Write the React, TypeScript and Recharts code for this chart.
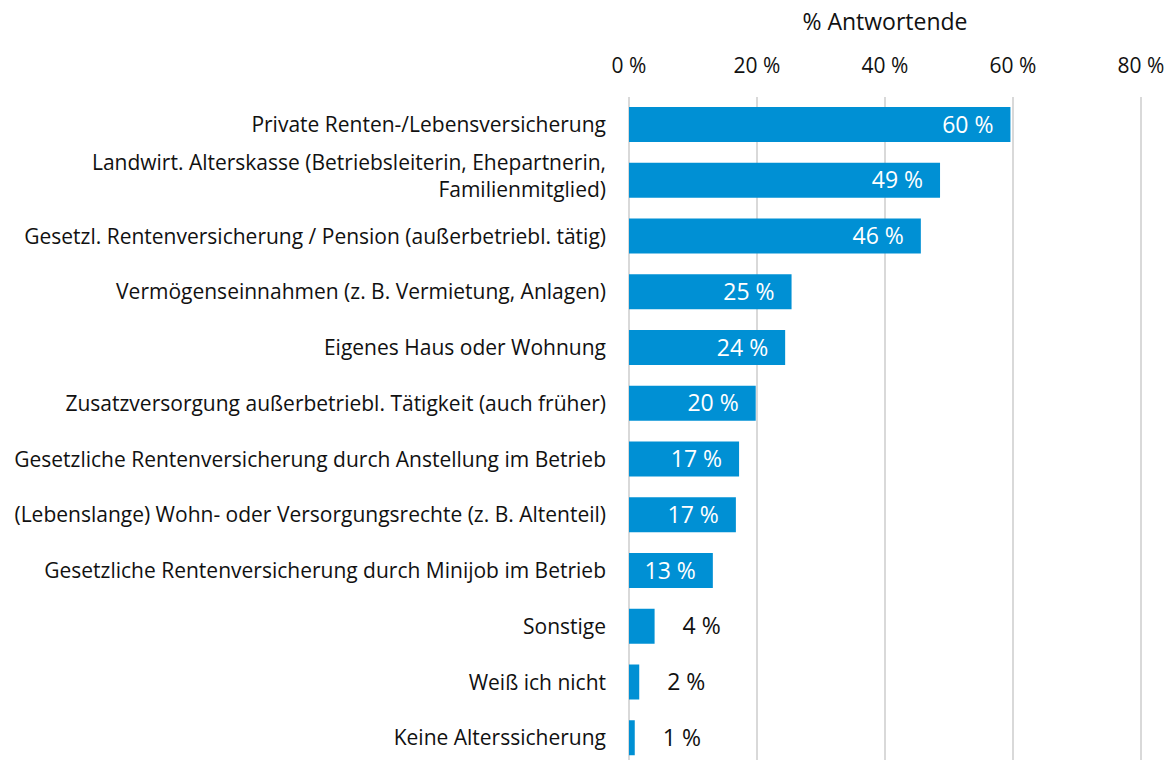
import React from "react";
import { Bar, BarChart, CartesianGrid, LabelList, XAxis, YAxis } from "recharts";

const categories = [
  "Private Renten-/Lebensversicherung",
  "Landwirt. Alterskasse (Betriebsleiterin, Ehepartnerin,\nFamilienmitglied)",
  "Gesetzl. Rentenversicherung / Pension (außerbetriebl. tätig)",
  "Vermögenseinnahmen (z. B. Vermietung, Anlagen)",
  "Eigenes Haus oder Wohnung",
  "Zusatzversorgung außerbetriebl. Tätigkeit (auch früher)",
  "Gesetzliche Rentenversicherung durch Anstellung im Betrieb",
  "(Lebenslange) Wohn- oder Versorgungsrechte (z. B. Altenteil)",
  "Gesetzliche Rentenversicherung durch Minijob im Betrieb",
  "Sonstige",
  "Weiß ich nicht",
  "Keine Alterssicherung",
];
const shares = [59.6, 48.6, 45.6, 25.4, 24.4, 19.8, 17.2, 16.7, 13.1, 4.0, 1.6, 0.9];
const xTicks = [0, 20, 40, 60, 80];

const FONT = "'Open Sans', sans-serif";
const BLUE = "#0090D4";
const TEXT = "#111111";

const data = categories.map((name, i) => ({ name, value: shares[i] }));

function CategoryTick(props: any) {
  const { x, y, payload } = props;
  const lines = String(payload.value).split("\n");
  const lineGap = 27;
  const start = lines.length > 1 ? -((lines.length - 1) * lineGap) / 2 - 4.5 : 0;
  return (
    <text x={x} y={y} textAnchor="end" fontSize={21} fontFamily={FONT} fill={TEXT}>
      {lines.map((line, i) => (
        <tspan key={i} x={x} y={y + start + i * lineGap} dy="0.35em">
          {line}
        </tspan>
      ))}
    </text>
  );
}

function PercentTick(props: any) {
  const { x, payload } = props;
  return (
    <text x={x} y={66} dy="0.35em" textAnchor="middle" fontSize={21} fontFamily={FONT} fill={TEXT}>
      {`${payload.value} %`}
    </text>
  );
}

function ValueLabel(props: any) {
  const { x, y, width, height, value } = props;
  const text = `${Math.round(value)} %`;
  const inside = value >= 10;
  return (
    <text
      x={inside ? x + width - 17 : x + width + 28}
      y={y + height / 2}
      dy="0.35em"
      textAnchor={inside ? "end" : "start"}
      fontSize={23}
      fontFamily={FONT}
      fill={inside ? "#ffffff" : TEXT}
    >
      {text}
    </text>
  );
}

function AxisTitle(props: any) {
  const { viewBox } = props;
  return (
    <text
      x={viewBox.x + viewBox.width / 2}
      y={22}
      dy="0.35em"
      textAnchor="middle"
      fontSize={23}
      fontFamily={FONT}
      fill={TEXT}
    >
      % Antwortende
    </text>
  );
}

export default function App() {
  return (
    <div style={{ position: "absolute", left: 0, top: 0, background: "#fff" }}>
      <BarChart
        width={1172}
        height={766}
        data={data}
        layout="vertical"
        margin={{ top: 0, right: 31, left: 0, bottom: 0 }}
        barSize={35}
      >
        <CartesianGrid vertical horizontal={false} stroke="#d9d9d9" strokeWidth={2} />
        <XAxis
          type="number"
          orientation="top"
          domain={[0, 80]}
          ticks={xTicks}
          height={97}
          axisLine={false}
          tickLine={false}
          tick={<PercentTick />}
          label={<AxisTitle />}
        />
        <YAxis
          type="category"
          dataKey="name"
          width={629}
          axisLine={false}
          tickLine={false}
          tickSize={0}
          tickMargin={23}
          interval={0}
          tick={<CategoryTick />}
        />
        <Bar dataKey="value" fill={BLUE} isAnimationActive={false}>
          <LabelList dataKey="value" content={<ValueLabel />} />
        </Bar>
      </BarChart>
    </div>
  );
}
